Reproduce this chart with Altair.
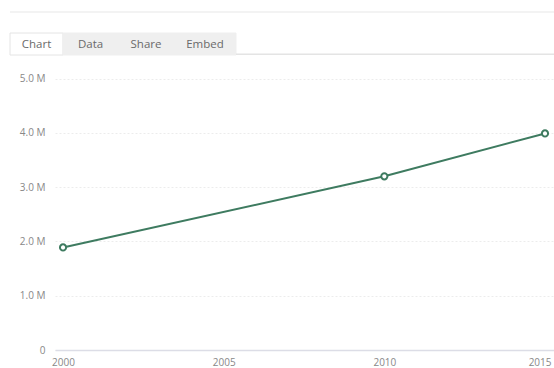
import altair as alt
import pandas as pd

years = [2000, 2010, 2015]
values = [1890000, 3200000, 3990000]
y_ticks = [0, 1000000, 2000000, 3000000, 4000000, 5000000]
x_ticks = [2000, 2005, 2010, 2015]
tabs = ["Chart", "Data", "Share", "Embed"]

df = pd.DataFrame({"year": years, "value": values})

GREEN = "#3e7b60"
FONT = "Open Sans"

xs = alt.Scale(domain=[1999.75, 2015.28], nice=False, zero=False)
ys = alt.Scale(domain=[0, 6227000], nice=False)

x_axis = alt.Axis(
    values=x_ticks, format="d", grid=False, ticks=False,
    domainColor="#dcdde6", domainWidth=1.5,
    labelColor="#888888", labelFont=FONT, labelFontSize=10, labelPadding=7,
    labelAlign={"condition": {"test": "datum.value == 2015", "value": "right"}, "value": "center"},
    labelOffset={"condition": {"test": "datum.value == 2015", "value": 6}, "value": 0},
    title=None,
)
y_axis = alt.Axis(
    values=y_ticks, domain=False, ticks=False,
    gridColor="#ececec", gridDash=[2, 2], gridWidth=1,
    labelColor="#888888", labelFont=FONT, labelFontSize=10, labelPadding=10,
    labelExpr="datum.value == 0 ? '0' : format(datum.value / 1000000, '.1f') + ' M'",
    title=None,
)

base = alt.Chart(df)
line = base.mark_line(color=GREEN, strokeWidth=2).encode(
    x=alt.X("year:Q", scale=xs, axis=x_axis),
    y=alt.Y("value:Q", scale=ys, axis=y_axis),
)
points = base.mark_point(
    shape="circle", filled=True, fill="white", stroke=GREEN, strokeWidth=2,
    size=38, opacity=1,
).encode(x=alt.X("year:Q", scale=xs), y=alt.Y("value:Q", scale=ys))

# decorative tab strip (pixel positions relative to plot area origin)
deco = alt.Chart(pd.DataFrame({"d": [0]}))
top_line = deco.mark_rect(color="#e8e8e8").encode(
    x=alt.value(-45), x2=alt.value(499), y=alt.value(-0.5), y2=alt.value(0.5))
tab_rects = []
tab_bounds = [(-45, 8), (8, 63), (63, 119), (119, 181)]
for i, (name, (a, b)) in enumerate(zip(tabs, tab_bounds)):
    fill = "white" if i == 0 else "#efefef"
    tab_rects.append(deco.mark_rect(
        fill=fill, stroke="#e4e4e4" if i == 0 else "#efefef", strokeWidth=1
    ).encode(x=alt.value(a), x2=alt.value(b), y=alt.value(21), y2=alt.value(43)))
    tab_rects.append(deco.mark_text(
        font=FONT, fontSize=11.5, color="#6a6a6a", align="center", baseline="middle"
    ).encode(x=alt.value((a + b) / 2), y=alt.value(32.5), text=alt.value(name)))
tab_line = deco.mark_rect(color="#e4e4e4").encode(
    x=alt.value(181), x2=alt.value(499), y=alt.value(41.5), y2=alt.value(43))

chart = alt.layer(
    line, points, top_line, *tab_rects, tab_line
).properties(
    width=499, height=338,
    view=alt.ViewBackground(stroke="transparent", strokeWidth=0, strokeOpacity=0),
    autosize=alt.AutoSizeParams(type="none"),
    padding={"left": 55, "top": 12, "right": 0, "bottom": 18},
).configure(
    background="white",
    view=alt.ViewConfig(stroke="transparent", strokeWidth=0, strokeOpacity=0),
    axisY=alt.AxisConfig(domain=False),
    axisX=alt.AxisConfig(grid=False),
)

chart.save("out.html", embed_options={"renderer": "svg", "actions": False})
